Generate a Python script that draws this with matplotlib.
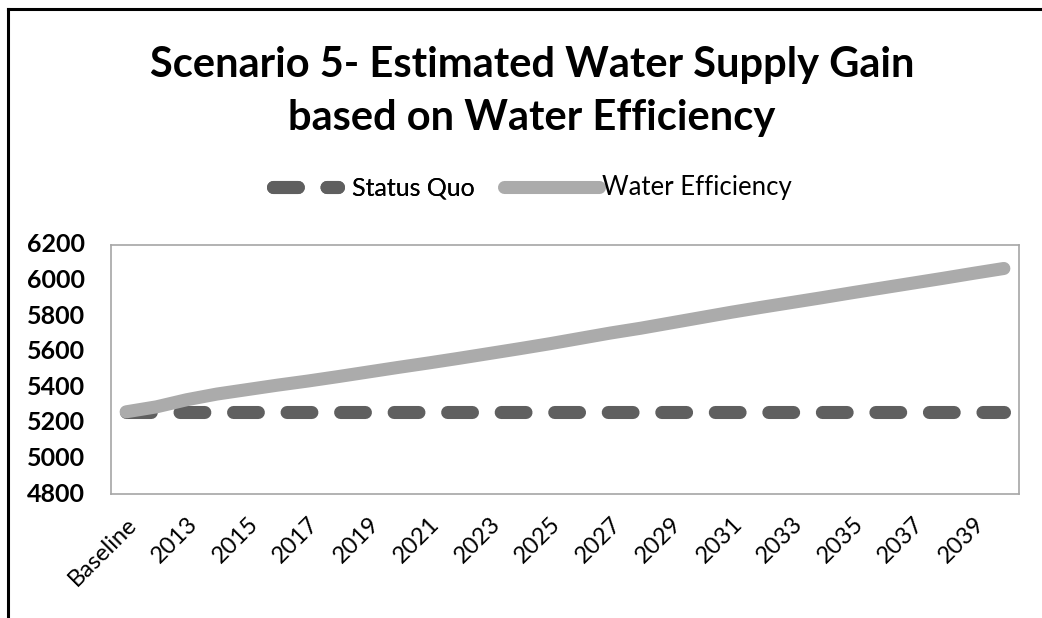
import matplotlib
matplotlib.use("Agg")
import matplotlib.pyplot as plt
from matplotlib.lines import Line2D
from matplotlib import transforms

plt.rcParams['font.family'] = ['Lato', 'DejaVu Sans']

categories = ["Baseline"] + [str(y) for y in range(2012, 2041)]
status_quo = [5260] * 30
water_efficiency = [5262, 5290, 5330, 5362, 5387, 5412, 5435, 5460, 5486, 5512,
                    5537, 5563, 5590, 5617, 5645, 5675, 5705, 5732, 5762, 5792,
                    5822, 5850, 5877, 5904, 5932, 5959, 5986, 6013, 6041, 6068]
yticks = [4800, 5000, 5200, 5400, 5600, 5800, 6000, 6200]
title_lines = ["Scenario 5- Estimated Water Supply Gain", "based on Water Efficiency"]

W, H = 1042, 618
fig = plt.figure(figsize=(W / 100, H / 100), dpi=100)
ax = fig.add_axes([111 / W, 1 - 494 / H, (1019 - 111) / W, (494 - 245) / H])

x = list(range(len(categories)))
l1, = ax.plot(x, status_quo, color="#5f5f5f", lw=9.4, dashes=(1.9, 2.2),
              dash_capstyle="round", solid_capstyle="round", label="Status Quo", zorder=2)
l2, = ax.plot(x, water_efficiency, color="#ababab", lw=9.4, solid_capstyle="round",
              label="Water Efficiency", zorder=3)

ax.set_xlim(-0.5, len(categories) - 0.5)
ax.set_ylim(4800, 6200)
ax.set_yticks(yticks)
ax.set_yticklabels([])
ylab_tr = transforms.offset_copy(ax.get_yaxis_transform(), fig=fig, x=-26, y=0,
                                 units="dots")
for v in yticks:
    ax.text(0, v, str(v), transform=ylab_tr, ha="right", va="center",
            fontsize=18, fontweight="bold", clip_on=False)
ax.set_xticks(x[::2])
ax.set_xticklabels(categories[::2], rotation=45, ha="right", va="top",
                   rotation_mode="anchor", fontsize=17)
ax.tick_params(axis="both", length=0)
ax.xaxis.set_tick_params(pad=14)
for s in ax.spines.values():
    s.set_color("#a6a6a6")
    s.set_linewidth(1.2)

fig.text(532 / W, 1 - 65 / H, title_lines[0], ha="center", va="center", fontsize=30,
         fontweight="bold")
fig.text(532 / W, 1 - 118 / H, title_lines[1], ha="center", va="center", fontsize=30,
         fontweight="bold")

ly = 1 - 188 / H
leg1 = fig.legend(handles=[l1], loc="center left", bbox_to_anchor=(273 / W, ly),
                  frameon=False, fontsize=18, handlelength=2.6, handletextpad=0.55,
                  borderpad=0, borderaxespad=0)
fig.add_artist(leg1)
fig.legend(handles=[l2], loc="center left", bbox_to_anchor=(504 / W, ly),
           frameon=False, fontsize=18.5, handlelength=3.7, handletextpad=0.1,
           borderpad=0, borderaxespad=0)

fig.add_artist(Line2D([8 / W, 8 / W], [0, 1 - 9 / H], color="black", lw=2.2,
                      transform=fig.transFigure))
fig.add_artist(Line2D([8 / W, 1], [1 - 9 / H, 1 - 9 / H], color="black", lw=2.2,
                      transform=fig.transFigure))

fig.savefig("out.png", dpi=100)
